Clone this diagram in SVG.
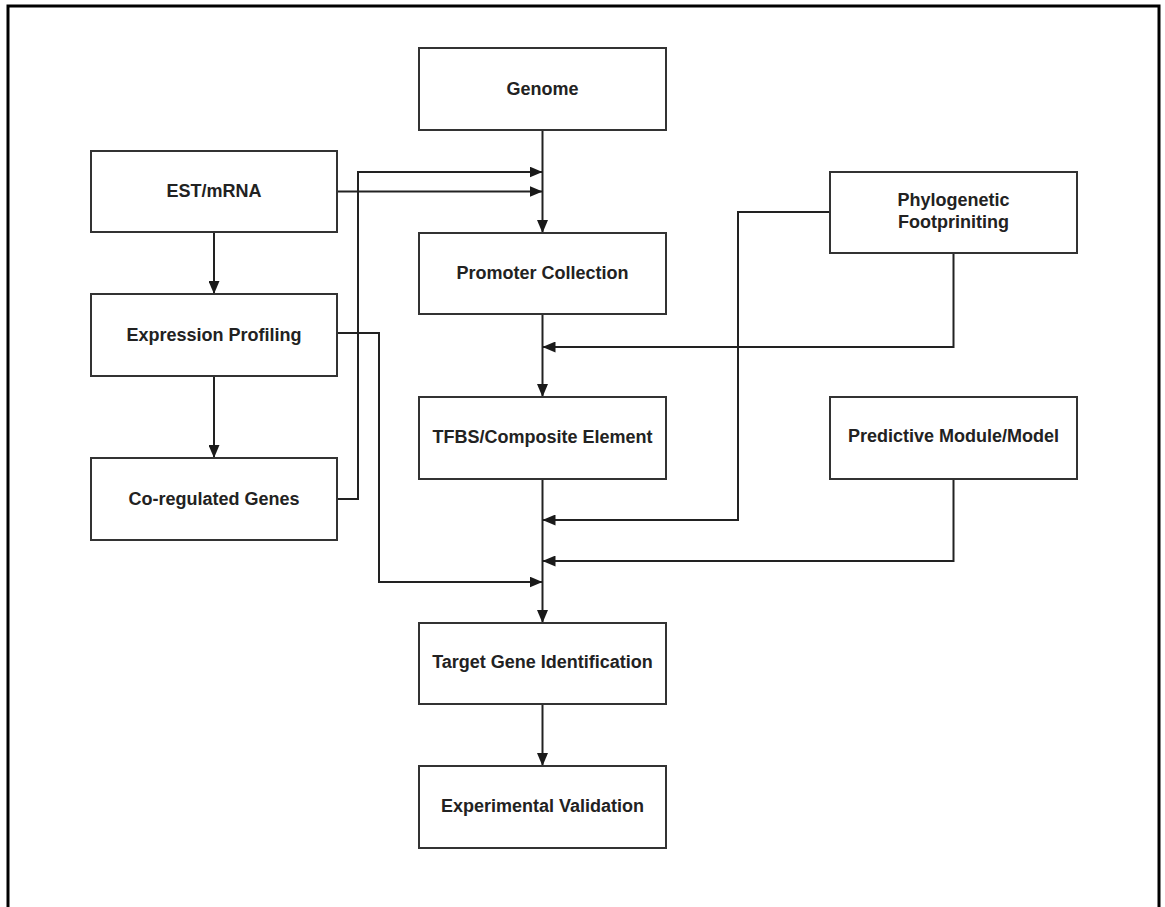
<svg xmlns="http://www.w3.org/2000/svg" width="1165" height="907" viewBox="0 0 1165 907">
  <defs>
    <marker id="arrow" viewBox="0 0 13 11" refX="13" refY="5.5" markerWidth="13" markerHeight="11" markerUnits="userSpaceOnUse" orient="auto">
      <path d="M0,0 L13,5.5 L0,11 Z" fill="#1a1a1a"/>
    </marker>
    <style>
      .box { fill: #ffffff; stroke: #333333; stroke-width: 2; }
      .label { font-family: "Liberation Sans", Arial, sans-serif; font-weight: bold; font-size: 18px; fill: #222222; text-anchor: middle; }
      .link { fill: none; stroke: #222222; stroke-width: 2; }
      .frame { fill: none; stroke: #000000; stroke-width: 3; }
    </style>
  </defs>

  <rect width="1165" height="907" fill="#ffffff"/>
  <path class="frame" d="M8,907 V6 H1159 V907"/>

  <!-- connectors -->
  <g id="connectors">
    <path class="link" d="M542.5,130 V233" marker-end="url(#arrow)"/>
    <path class="link" d="M337,191.5 H542.5" marker-end="url(#arrow)"/>
    <path class="link" d="M337,499 H358 V172 H542.5" marker-end="url(#arrow)"/>
    <path class="link" d="M337,333 H379 V582 H542.5" marker-end="url(#arrow)"/>
    <path class="link" d="M542.5,314 V397" marker-end="url(#arrow)"/>
    <path class="link" d="M953.5,253 V347 H542.5" marker-end="url(#arrow)"/>
    <path class="link" d="M830,212 H738 V520 H542.5" marker-end="url(#arrow)"/>
    <path class="link" d="M953.5,479 V561 H542.5" marker-end="url(#arrow)"/>
    <path class="link" d="M542.5,479 V623" marker-end="url(#arrow)"/>
    <path class="link" d="M542.5,704 V766" marker-end="url(#arrow)"/>
    <path class="link" d="M214,232 V294" marker-end="url(#arrow)"/>
    <path class="link" d="M214,376 V458" marker-end="url(#arrow)"/>
  </g>

  <!-- nodes -->
  <g id="genome">
    <rect class="box" x="419" y="48" width="247" height="82"/>
    <text class="label" x="542.5" y="95">Genome</text>
  </g>
  <g id="est-mrna">
    <rect class="box" x="91" y="151" width="246" height="81"/>
    <text class="label" x="214" y="197">EST/mRNA</text>
  </g>
  <g id="expression-profiling">
    <rect class="box" x="91" y="294" width="246" height="82"/>
    <text class="label" x="214" y="341">Expression Profiling</text>
  </g>
  <g id="co-regulated-genes">
    <rect class="box" x="91" y="458" width="246" height="82"/>
    <text class="label" x="214" y="505">Co-regulated Genes</text>
  </g>
  <g id="promoter-collection">
    <rect class="box" x="419" y="233" width="247" height="81"/>
    <text class="label" x="542.5" y="279">Promoter Collection</text>
  </g>
  <g id="tfbs">
    <rect class="box" x="419" y="397" width="247" height="82"/>
    <text class="label" x="542.5" y="443">TFBS/Composite Element</text>
  </g>
  <g id="phylogenetic-footprinting">
    <rect class="box" x="830" y="172" width="247" height="81"/>
    <text class="label" x="953.5" y="206">Phylogenetic</text>
    <text class="label" x="953.5" y="228">Footpriniting</text>
  </g>
  <g id="predictive-module">
    <rect class="box" x="830" y="397" width="247" height="82"/>
    <text class="label" x="953.5" y="442">Predictive Module/Model</text>
  </g>
  <g id="target-gene-identification">
    <rect class="box" x="419" y="623" width="247" height="81"/>
    <text class="label" x="542.5" y="668">Target Gene Identification</text>
  </g>
  <g id="experimental-validation">
    <rect class="box" x="419" y="766" width="247" height="82"/>
    <text class="label" x="542.5" y="812">Experimental Validation</text>
  </g>
</svg>
